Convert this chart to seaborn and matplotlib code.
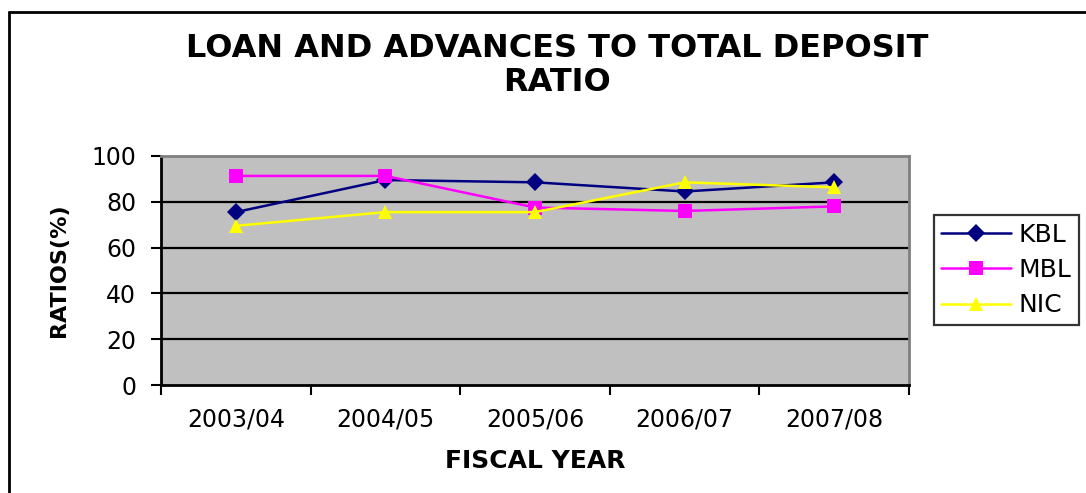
import matplotlib
matplotlib.use("Agg")
import matplotlib.pyplot as plt
from matplotlib.lines import Line2D
import seaborn as sns
import pandas as pd

# Fiscal years and loan/advances-to-deposit ratios (%) per bank
fiscal_years = ["2003/04", "2004/05", "2005/06", "2006/07", "2007/08"]
kbl = [75.5, 89.5, 88.5, 84.5, 88.5]
mbl = [91.3, 91.3, 77.5, 76.0, 78.0]
nic = [69.5, 75.5, 75.5, 88.5, 86.3]
banks = ["KBL", "MBL", "NIC"]
y_ticks = [0, 20, 40, 60, 80, 100]

sns.set_theme(style="white")
plt.rcParams["font.family"] = ["DejaVu Sans"]
plt.rcParams["text.color"] = "black"
plt.rcParams["axes.labelcolor"] = "black"
plt.rcParams["xtick.color"] = "black"
plt.rcParams["ytick.color"] = "black"

rows = []
for bank, vals in zip(banks, [kbl, mbl, nic]):
    for i, v in enumerate(vals):
        rows.append({"pos": i, "ratio": v, "bank": bank})
df = pd.DataFrame(rows)

palette = {"KBL": "#000080", "MBL": "#FF00FF", "NIC": "#FFFF00"}
markers = {"KBL": "D", "MBL": "s", "NIC": "^"}

fig = plt.figure(figsize=(10.86, 4.93), dpi=100)
fig.patch.set_facecolor("white")
ax = fig.add_axes([0.1483, 0.219, 0.6887, 0.4646])
ax.set_facecolor("#C0C0C0")

sns.lineplot(data=df, x="pos", y="ratio", hue="bank", style="bank",
             palette=palette, markers=markers, dashes=False,
             linewidth=1.8, markersize=9.5, markeredgewidth=0,
             legend=False, ax=ax, zorder=3)

ax.set_xlim(-0.5, len(fiscal_years) - 0.5)
ax.set_ylim(0, 100)

# Horizontal gridlines
ax.set_yticks(y_ticks)
ax.set_yticklabels([str(t) for t in y_ticks], fontsize=17)
for t in y_ticks[1:-1]:
    ax.axhline(t, color="black", linewidth=1.6, zorder=1)

# Category boundaries carry the tick marks; labels sit at category centres
ax.set_xticks([i - 0.5 for i in range(len(fiscal_years) + 1)])
ax.set_xticklabels([])
ax.set_xticks(range(len(fiscal_years)), minor=True)
ax.set_xticklabels(fiscal_years, minor=True, fontsize=17)
ax.tick_params(axis="x", which="major", direction="out", length=7, width=1.5,
               color="black", bottom=True)
ax.tick_params(axis="x", which="minor", length=0, pad=16)
ax.tick_params(axis="y", direction="out", length=7, width=1.5, color="black",
               left=True, pad=11)

for side in ["left", "bottom"]:
    ax.spines[side].set_color("black")
    ax.spines[side].set_linewidth(2)
for side in ["top", "right"]:
    ax.spines[side].set_color("#808080")
    ax.spines[side].set_linewidth(2)

ax.set_xlabel("FISCAL YEAR", fontsize=18, fontweight="bold", labelpad=13)
ax.set_ylabel("RATIOS(%)", fontsize=16, fontweight="bold", labelpad=16)

fig.text(0.513, 0.867, "LOAN AND ADVANCES TO TOTAL DEPOSIT\nRATIO",
         ha="center", va="center", fontsize=23, fontweight="bold",
         linespacing=1.15)

handles = [Line2D([0], [0], color=palette[b], marker=markers[b], lw=1.8,
                  markersize=9.5, markeredgewidth=0) for b in banks]
leg = fig.legend(handles, banks, loc="center left",
                 bbox_to_anchor=(0.86, 0.452), fontsize=18,
                 frameon=True, fancybox=False, edgecolor="black",
                 handlelength=2.8, labelspacing=0.45, borderpad=0.3,
                 handletextpad=0.3, borderaxespad=0)
leg.get_frame().set_linewidth(1.6)

# Outer chart frame
fig.add_artist(Line2D([0.0083, 0.0083], [0.0, 0.9757], color="black",
                      lw=2, transform=fig.transFigure))
fig.add_artist(Line2D([0.0083, 1.0], [0.9757, 0.9757], color="black",
                      lw=2, transform=fig.transFigure))

fig.savefig("out.png", dpi=100)
